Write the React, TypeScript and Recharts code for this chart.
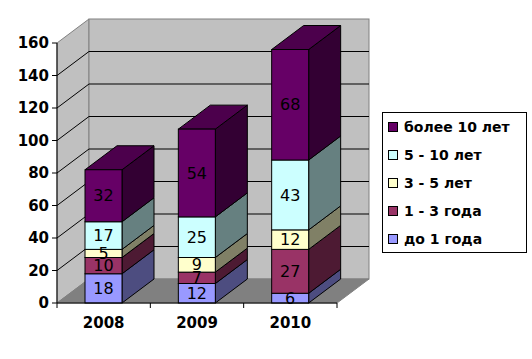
// App.tsx — Excel-style 3D stacked columns: staff by length of service, 2008–2010.
// Walls, floor and perspective grid are drawn from the plot rect handed to a ReferenceArea shape;
// each stacked segment is a front rect plus a shaded side (and a top face on the last series).

import { Bar, BarChart, LabelList, Legend, ReferenceArea, XAxis, YAxis } from 'recharts'

const years = ['2008', '2009', '2010']
const upTo1 = [18, 12, 6]
const from1to3 = [10, 7, 27]
const from3to5 = [5, 9, 12]
const from5to10 = [17, 25, 43]
const over10 = [32, 54, 68]
const yTicks = [0, 20, 40, 60, 80, 100, 120, 140, 160]

const SERIES = [
  { key: 'upTo1', name: 'до 1 года', values: upTo1, front: '#9999FF', side: '#4D4D80', top: '#7373BF' },
  { key: 'from1to3', name: '1 - 3 года', values: from1to3, front: '#993366', side: '#4D1A33', top: '#73264D' },
  { key: 'from3to5', name: '3 - 5 лет', values: from3to5, front: '#FFFFCC', side: '#808066', top: '#BFBF99' },
  { key: 'from5to10', name: '5 - 10 лет', values: from5to10, front: '#CCFFFF', side: '#668080', top: '#99BFBF' },
  { key: 'over10', name: 'более 10 лет', values: over10, front: '#660066', side: '#330033', top: '#4C004C' },
]

const data = years.map((year, i) => {
  const row: Record<string, string | number> = { year }
  SERIES.forEach((s) => (row[s.key] = s.values[i]))
  return row
})

const DX = 32
const DY = -24
const FONT = '"DejaVu Sans", Verdana, sans-serif'
const WALL = '#C0C0C0'
const EDGE = '#808080'

function Walls(props: any) {
  const { x, y, width, height } = props
  if (width == null || height == null) return null
  const bottom = y + height
  const max = yTicks[yTicks.length - 1]
  const toY = (v: number) => bottom - (v / max) * height
  const inner = yTicks.filter((v) => v > 0 && v < max)
  const step = width / years.length
  return (
    <g>
      <polygon
        points={`${x},${y} ${x + DX},${y + DY} ${x + DX},${bottom + DY} ${x},${bottom}`}
        fill={WALL}
        stroke={EDGE}
      />
      <rect x={x + DX} y={y + DY} width={width} height={height} fill={WALL} stroke={EDGE} />
      <polygon
        points={`${x},${bottom} ${x + DX},${bottom + DY} ${x + width + DX},${bottom + DY} ${x + width},${bottom}`}
        fill={EDGE}
        stroke={EDGE}
      />
      {inner.map((v) => (
        <g key={v} stroke="#000" strokeWidth={1}>
          <line x1={x} y1={toY(v)} x2={x + DX} y2={toY(v) + DY} />
          <line x1={x + DX} y1={toY(v) + DY} x2={x + width + DX} y2={toY(v) + DY} />
        </g>
      ))}
      {years.map((_, i) => (
        <line key={i} x1={x + step * i} y1={bottom} x2={x + step * i} y2={bottom + 5} stroke="#000" />
      ))}
      <line x1={x + width} y1={bottom} x2={x + width} y2={bottom + 5} stroke="#000" />
    </g>
  )
}

function Box3D(props: any) {
  const { x, y, width, height, front, side, top, isTop } = props
  if (!width || height == null) return null
  const x2 = x + width
  const y2 = y + height
  return (
    <g stroke="#000" strokeWidth={1}>
      <polygon points={`${x2},${y} ${x2 + DX},${y + DY} ${x2 + DX},${y2 + DY} ${x2},${y2}`} fill={side} />
      {isTop && <polygon points={`${x},${y} ${x + DX},${y + DY} ${x2 + DX},${y + DY} ${x2},${y}`} fill={top} />}
      <rect x={x} y={y} width={width} height={height} fill={front} />
    </g>
  )
}

// Excel lists the stack top-down, so the legend runs in reverse series order.
function LegendBox() {
  const items = [...SERIES].reverse()
  return (
    <div
      style={{
        border: '1px solid #000',
        background: '#fff',
        width: 145,
        height: 141,
        boxSizing: 'border-box',
        padding: '0 0 0 5px',
        fontFamily: FONT,
      }}
    >
      {items.map((it) => (
        <div
          key={it.key}
          style={{ display: 'flex', alignItems: 'center', height: 28, fontWeight: 'bold', fontSize: 14, color: '#000' }}
        >
          <span
            style={{ width: 8, height: 8, background: it.front, border: '1px solid #000', marginRight: 6, flex: 'none' }}
          />
          {it.name}
        </div>
      ))}
    </div>
  )
}

export default function App() {
  return (
    <div style={{ position: 'absolute', left: 0, top: 0, background: '#fff' }}>
      <BarChart width={532} height={359} data={data} margin={{ top: 43, right: 195, bottom: 26, left: 0 }}>
        <ReferenceArea y1={0} y2={160} ifOverflow="visible" shape={(p: any) => <Walls {...p} />} />
        <XAxis
          dataKey="year"
          tickLine={false}
          axisLine={{ stroke: '#000' }}
          height={30}
          tickSize={6}
          tickMargin={8}
          tick={{ fill: '#000', fontSize: 15, fontWeight: 'bold', fontFamily: FONT }}
        />
        <YAxis
          domain={[0, 160]}
          ticks={yTicks}
          interval={0}
          width={57}
          tickSize={5}
          tickMargin={3}
          axisLine={{ stroke: '#000' }}
          tickLine={{ stroke: '#000' }}
          tick={{ fill: '#000', fontSize: 15, fontWeight: 'bold', fontFamily: FONT }}
        />
        {SERIES.map((s, i) => (
          <Bar
            key={s.key}
            dataKey={s.key}
            name={s.name}
            stackId="a"
            barSize={37}
            fill={s.front}
            isAnimationActive={false}
            shape={(p: any) => (
              <Box3D {...p} front={s.front} side={s.side} top={s.top} isTop={i === SERIES.length - 1} />
            )}
          >
            <LabelList dataKey={s.key} position="center" fill="#000" fontSize={16} fontFamily={FONT} />
          </Bar>
        ))}
        <Legend
          layout="horizontal"
          align="center"
          verticalAlign="middle"
          content={<LegendBox />}
          wrapperStyle={{ left: 382, top: 112, width: 145, height: 141 }}
        />
      </BarChart>
    </div>
  )
}
